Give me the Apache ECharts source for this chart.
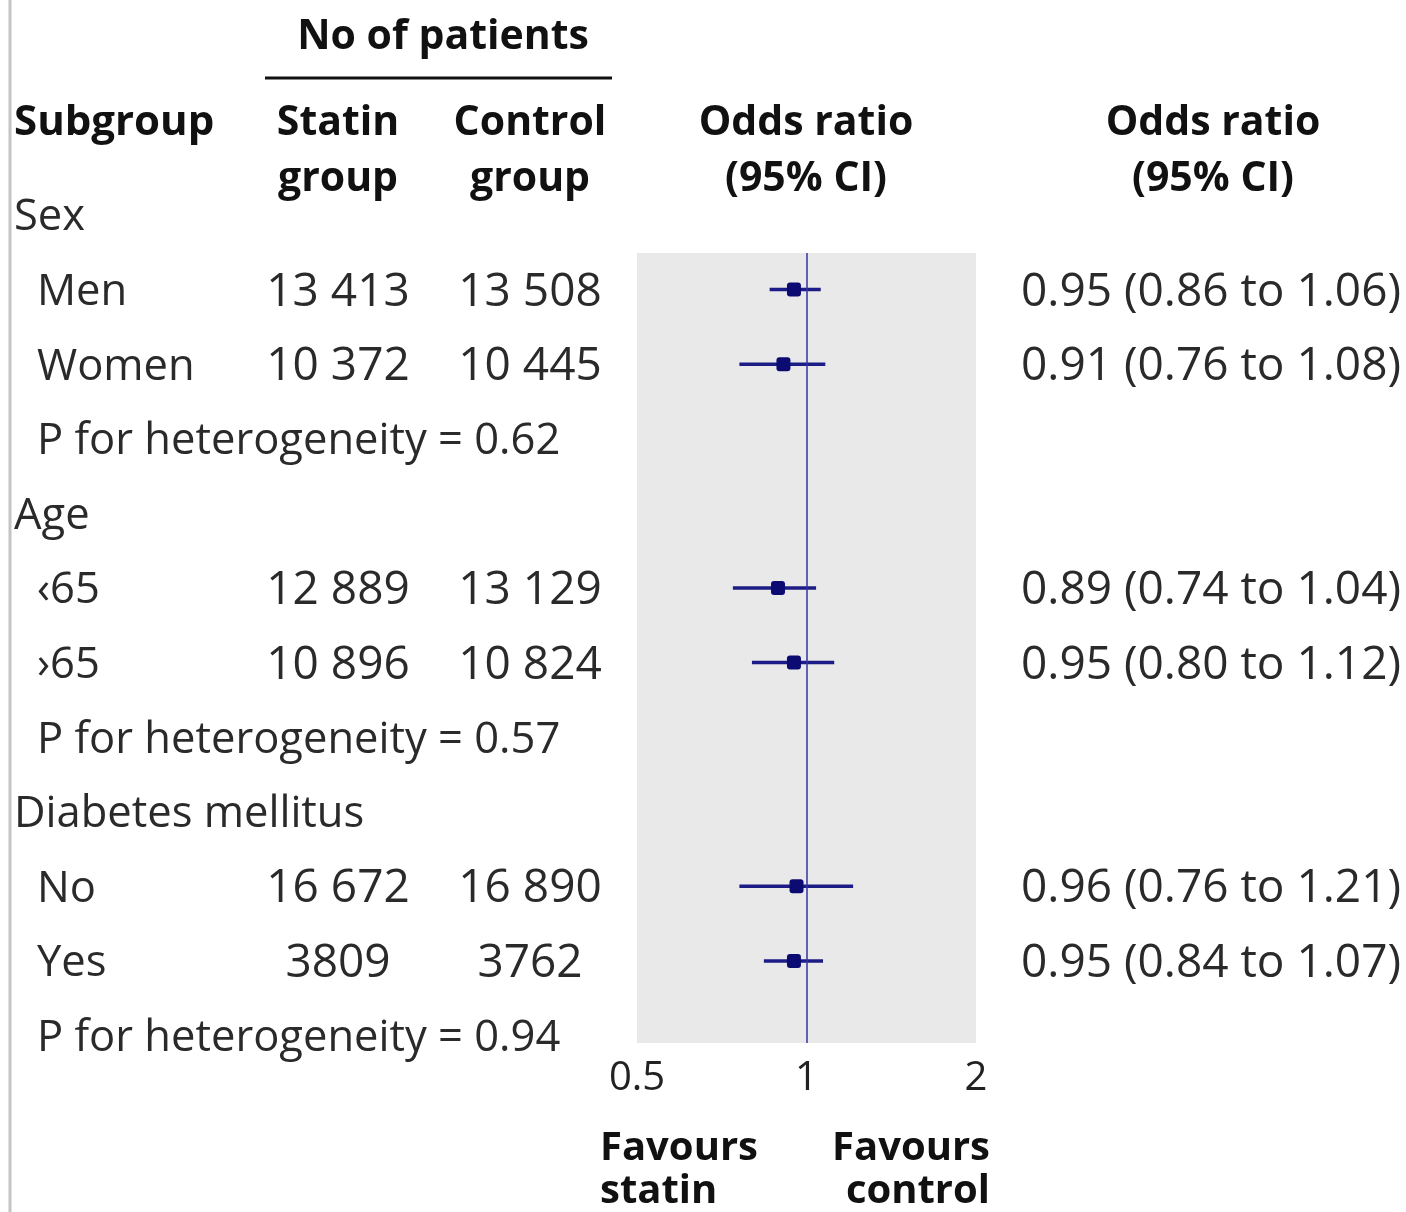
<!DOCTYPE html>
<html><head><meta charset="utf-8">
<script src="https://cdn.jsdelivr.net/npm/echarts@6/dist/echarts.min.js"></script>
<style>html,body{margin:0;padding:0;background:#fff}#c{width:1406px;height:1212px}</style>
</head><body><div id="c"></div>
<script>
const rowLabels = ['Sex','Men','Women','P for heterogeneity = 0.62','Age','\u203965','\u203a65','P for heterogeneity = 0.57','Diabetes mellitus','No','Yes','P for heterogeneity = 0.94'];
const rowLevel = [0,1,1,1,0,1,1,1,0,1,1,1];
const statinN  = [null,13413,10372,null,null,12889,10896,null,null,16672,3809,null];
const controlN = [null,13508,10445,null,null,13129,10824,null,null,16890,3762,null];
const oddsRatio = [null,0.95,0.91,null,null,0.89,0.95,null,null,0.96,0.95,null];
const ciLower   = [null,0.86,0.76,null,null,0.74,0.80,null,null,0.76,0.84,null];
const ciUpper   = [null,1.06,1.08,null,null,1.04,1.12,null,null,1.21,1.07,null];
const xTicks = ['0.5','1','2'];

const REG = '"Open Sans", "Noto Sans", sans-serif';
const fmtN = n => n == null ? '' : (n >= 10000 ? String(n).replace(/\B(?=(\d{3})+(?!\d))/g, ' ') : String(n));
const fmtOR = i => oddsRatio[i] == null ? '' : `${oddsRatio[i].toFixed(2)} (${ciLower[i].toFixed(2)} to ${ciUpper[i].toFixed(2)})`;

const tableData = rowLabels.map((_, i) => [i]);
const forestData = [];
oddsRatio.forEach((v, i) => { if (v != null) forestData.push([v, ciLower[i], ciUpper[i], i]); });

const chart = echarts.init(document.getElementById('c'), null, {renderer: 'canvas'});
const yAx = (g) => ({type: 'value', gridIndex: g, inverse: true, min: 0.51, max: 11.1, show: false});
const TXT_DY = 3;

chart.setOption({
  animation: false,
  backgroundColor: '#ffffff',
  grid: [
    {left: 637, top: 253, width: 339, height: 790, show: true, backgroundColor: '#e9e9e9', borderWidth: 0},
    {left: 0, right: 0, top: 253, height: 790}
  ],
  xAxis: [
    {type: 'log', logBase: 2, gridIndex: 0, min: 0.5, max: 2,
     axisLine: {show: false}, axisTick: {show: false}, splitLine: {show: false},
     axisLabel: {fontSize: 40, fontFamily: REG, color: '#222', margin: 16,
       formatter: v => { const s = String(+v.toFixed(2)); return xTicks.includes(s) ? s : ''; }}},
    {type: 'value', gridIndex: 1, min: 0, max: 1406, show: false}
  ],
  yAxis: [yAx(0), yAx(1)],
  series: [
    {
      type: 'custom', xAxisIndex: 1, yAxisIndex: 1, data: tableData, silent: true,
      encode: {y: 0},
      renderItem: (params, api) => {
        const i = api.value(0);
        const ch = [];
        const lab = api.coord([rowLevel[i] ? 37 : 14, i]);
        ch.push({type: 'text', x: lab[0], y: lab[1] + TXT_DY, style: {text: rowLabels[i], font: '43.5px ' + REG, fill: '#2a2a2a', align: 'left', verticalAlign: 'middle'}});
        if (statinN[i] != null) {
          const a = api.coord([338, i]), b = api.coord([530, i]);
          ch.push({type: 'text', x: a[0], y: a[1] + TXT_DY, style: {text: fmtN(statinN[i]), font: '46px ' + REG, fill: '#2a2a2a', align: 'center', verticalAlign: 'middle'}});
          ch.push({type: 'text', x: b[0], y: b[1] + TXT_DY, style: {text: fmtN(controlN[i]), font: '46px ' + REG, fill: '#2a2a2a', align: 'center', verticalAlign: 'middle'}});
        }
        if (oddsRatio[i] != null) {
          const c = api.coord([1211, i]);
          ch.push({type: 'text', x: c[0], y: c[1] + TXT_DY, style: {text: fmtOR(i), font: '46px ' + REG, fill: '#2a2a2a', align: 'center', verticalAlign: 'middle'}});
        }
        return {type: 'group', children: ch};
      }
    },
    {
      type: 'custom', xAxisIndex: 0, yAxisIndex: 0, data: forestData, silent: true,
      encode: {x: [0, 1, 2], y: 3},
      renderItem: (params, api) => {
        const row = api.value(3);
        const p = api.coord([api.value(0), row]);
        const l = api.coord([api.value(1), row]);
        const h = api.coord([api.value(2), row]);
        return {type: 'group', children: [
          {type: 'line', shape: {x1: l[0], y1: l[1], x2: h[0], y2: h[1]}, style: {stroke: '#1c1c86', lineWidth: 3.5}},
          {type: 'rect', shape: {x: p[0] - 7, y: p[1] - 7, width: 14, height: 14, r: 3}, style: {fill: '#0b0b72'}}
        ]};
      },
      markLine: {silent: true, symbol: ['none', 'none'], label: {show: false},
        lineStyle: {color: '#3232a2', width: 1.5, type: 'solid'}, data: [{xAxis: 1}]}
    }
  ],
  graphic: [
    {type: 'line', shape: {x1: 10, y1: 0, x2: 10, y2: 1212}, style: {stroke: '#c4c4c4', lineWidth: 3}},
    {type: 'text', x: 443, y: 37, style: {text: 'No of patients', font: 'bold 41px ' + REG, fill: '#111', align: 'center', verticalAlign: 'middle'}},
    {type: 'line', shape: {x1: 265, y1: 78, x2: 612, y2: 78}, style: {stroke: '#111', lineWidth: 3}},
    {type: 'text', x: 14, y: 123, style: {text: 'Subgroup', font: 'bold 42px ' + REG, fill: '#111', align: 'left', verticalAlign: 'middle'}},
    {type: 'text', x: 338, y: 151, style: {text: 'Statin\ngroup', font: 'bold 41px ' + REG, lineHeight: 56, fill: '#111', align: 'center', verticalAlign: 'middle'}},
    {type: 'text', x: 530, y: 151, style: {text: 'Control\ngroup', font: 'bold 41px ' + REG, lineHeight: 56, fill: '#111', align: 'center', verticalAlign: 'middle'}},
    {type: 'text', x: 806, y: 151, style: {text: 'Odds ratio\n(95% CI)', font: 'bold 41px ' + REG, lineHeight: 56, fill: '#111', align: 'center', verticalAlign: 'middle'}},
    {type: 'text', x: 1213, y: 151, style: {text: 'Odds ratio\n(95% CI)', font: 'bold 41px ' + REG, lineHeight: 56, fill: '#111', align: 'center', verticalAlign: 'middle'}},
    {type: 'text', x: 600, y: 1170, style: {text: 'Favours\nstatin', font: 'bold 40px ' + REG, lineHeight: 43, fill: '#111', align: 'left', verticalAlign: 'middle'}},
    {type: 'text', x: 990, y: 1170, style: {text: 'Favours\ncontrol', font: 'bold 40px ' + REG, lineHeight: 43, fill: '#111', align: 'right', verticalAlign: 'middle'}}
  ]
});
</script></body></html>
